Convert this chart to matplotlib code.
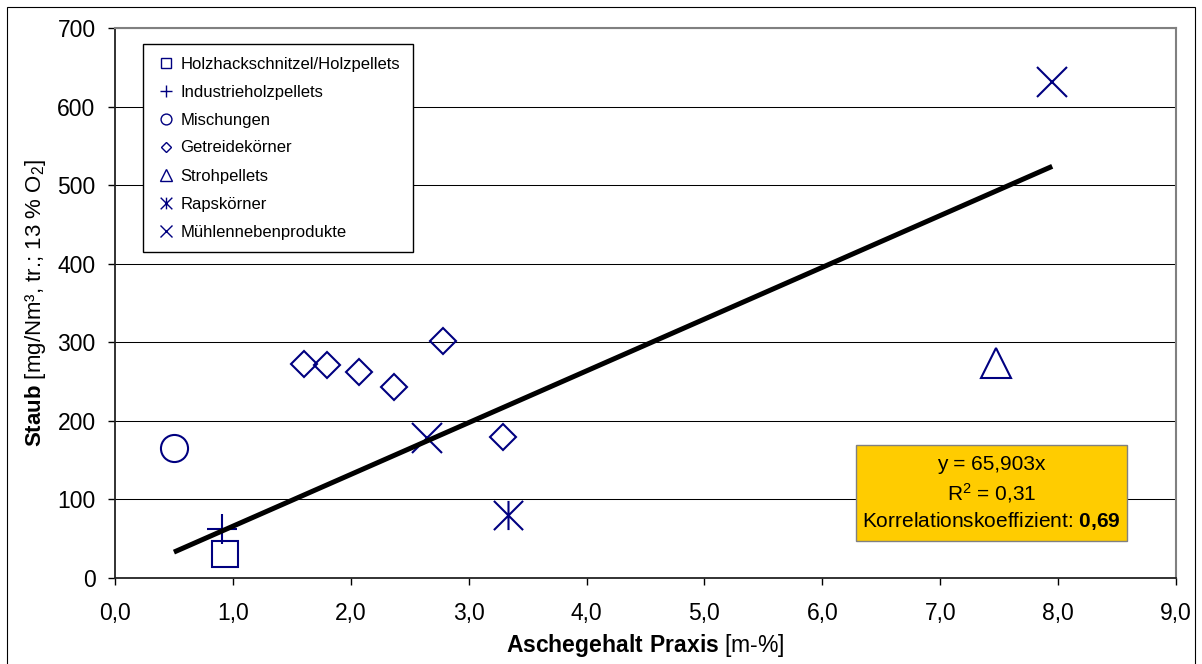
import numpy as np
import matplotlib.pyplot as plt
from matplotlib.path import Path
from matplotlib.patches import Rectangle

plt.rcParams['font.family'] = ['Liberation Sans', 'DejaVu Sans']
plt.rcParams['mathtext.fontset'] = 'custom'
plt.rcParams['mathtext.rm'] = 'Liberation Sans'
plt.rcParams['mathtext.bf'] = 'Liberation Sans:bold'
plt.rcParams['mathtext.default'] = 'regular'

# ======================================
# DATA
# ======================================

labels = ['Holzhackschnitzel/Holzpellets', 'Industrieholzpellets', 'Mischungen',
          'Getreidekörner', 'Strohpellets', 'Rapskörner', 'Mühlennebenprodukte']

holz_x = [0.93]
holz_y = [31]
industrie_x = [0.905]
industrie_y = [62]
misch_x = [0.50]
misch_y = [165]
getreide_x = [1.60, 1.80, 2.07, 2.37, 2.78, 3.29]
getreide_y = [273, 271, 262, 243, 302, 179]
stroh_x = [7.47]
stroh_y = [274]
raps_x = [3.33]
raps_y = [80]
muehle_x = [2.65, 7.95]
muehle_y = [178, 631]

slope = 65.903
r2_text = '0,31'
korr_text = '0,69'

xticks = np.arange(0, 10)
yticks = np.arange(0, 800, 100)

# ======================================
# STYLE
# ======================================

navy = '#000080'
asterisk = Path([(-1, -1), (1, 1), (-1, 1), (1, -1), (0, -1), (0, 1)],
                [Path.MOVETO, Path.LINETO, Path.MOVETO, Path.LINETO, Path.MOVETO, Path.LINETO])

series = [
    (holz_x, holz_y, 's', 19),
    (industrie_x, industrie_y, '+', 21),
    (misch_x, misch_y, 'o', 19.5),
    (getreide_x, getreide_y, 'D', 13),
    (stroh_x, stroh_y, '^', 21),
    (raps_x, raps_y, asterisk, 21),
    (muehle_x, muehle_y, 'x', 21),
]

W, H = 1202, 664
fig = plt.figure(figsize=(W / 100, H / 100), dpi=100)
ax = fig.add_axes([115 / W, 86 / H, 1061 / W, 550 / H])

for (xs, ys, m, ms), lab in zip(series, labels):
    ax.plot(xs, ys, linestyle='none', marker=m, markersize=ms, markerfacecolor='none',
            markeredgecolor=navy, markeredgewidth=1.5, label=lab, zorder=3)

# trendline through origin
all_x = holz_x + industrie_x + misch_x + getreide_x + stroh_x + raps_x + muehle_x
tx = np.array([min(all_x), max(all_x)])
ax.plot(tx, slope * tx, color='black', linewidth=3.6, solid_capstyle='butt', zorder=4)

ax.set_xlim(0, 9)
ax.set_ylim(0, 700)
ax.set_xticks(xticks)
ax.set_xticklabels([f'{v:.1f}'.replace('.', ',') for v in xticks])
ax.set_yticks(yticks)
ax.yaxis.grid(True, color='black', linewidth=0.75)
ax.set_axisbelow(True)

for s in ['left', 'bottom']:
    ax.spines[s].set_color('#222222')
    ax.spines[s].set_linewidth(1.3)
for s in ['top', 'right']:
    ax.spines[s].set_color('#808080')
    ax.spines[s].set_linewidth(1.5)

ax.tick_params(axis='both', direction='out', length=5, width=1, labelsize=16.5, colors='black')
ax.tick_params(axis='y', pad=9)
ax.tick_params(axis='x', pad=12)

ax.set_xlabel(r'$\bf{Aschegehalt\ Praxis}$ [m-%]', fontsize=16.5)
ax.set_ylabel(r'$\bf{Staub}$ [mg/Nm³, tr.; 13 % O$_2$]', fontsize=16)
ax.xaxis.set_label_coords(0.5, -0.098)
ax.yaxis.set_label_coords(-0.063, 0.5)

leg = ax.legend(loc='upper left', bbox_to_anchor=((143 - 115) / 1061, (578 - 44) / 550),
                fontsize=12, markerscale=0.4, frameon=True, fancybox=False,
                edgecolor='black', framealpha=1, labelspacing=0.78, handlelength=1.3,
                handletextpad=0.2, borderpad=0.75, borderaxespad=0)
leg.get_frame().set_linewidth(1.0)
for h in leg.legend_handles:
    h.set_markeredgewidth(1.0)

# equation box
fig.add_artist(Rectangle((856 / W, 1 - 541 / H), 271 / W, 96 / H, transform=fig.transFigure,
                         facecolor='#FFCC00', edgecolor='#808080', linewidth=1.0))
cx = 991.5 / W
fig.text(cx, 1 - 465 / H, 'y = 65,903x', ha='center', va='center', fontsize=15)
fig.text(cx, 1 - 493 / H, 'R$^2$ = ' + r2_text, ha='center', va='center', fontsize=15)
fig.text(cx, 1 - 521 / H, r'Korrelationskoeffizient: $\bf{' + korr_text.replace(',', '{,}') + '}$',
         ha='center', va='center', fontsize=15)

# outer chart border
fig.add_artist(Rectangle((7 / W, -0.02), (1195 - 7) / W, 1.02 - 7 / H, transform=fig.transFigure,
                         facecolor='none', edgecolor='black', linewidth=0.8))

fig.savefig('out.png', dpi=100)
